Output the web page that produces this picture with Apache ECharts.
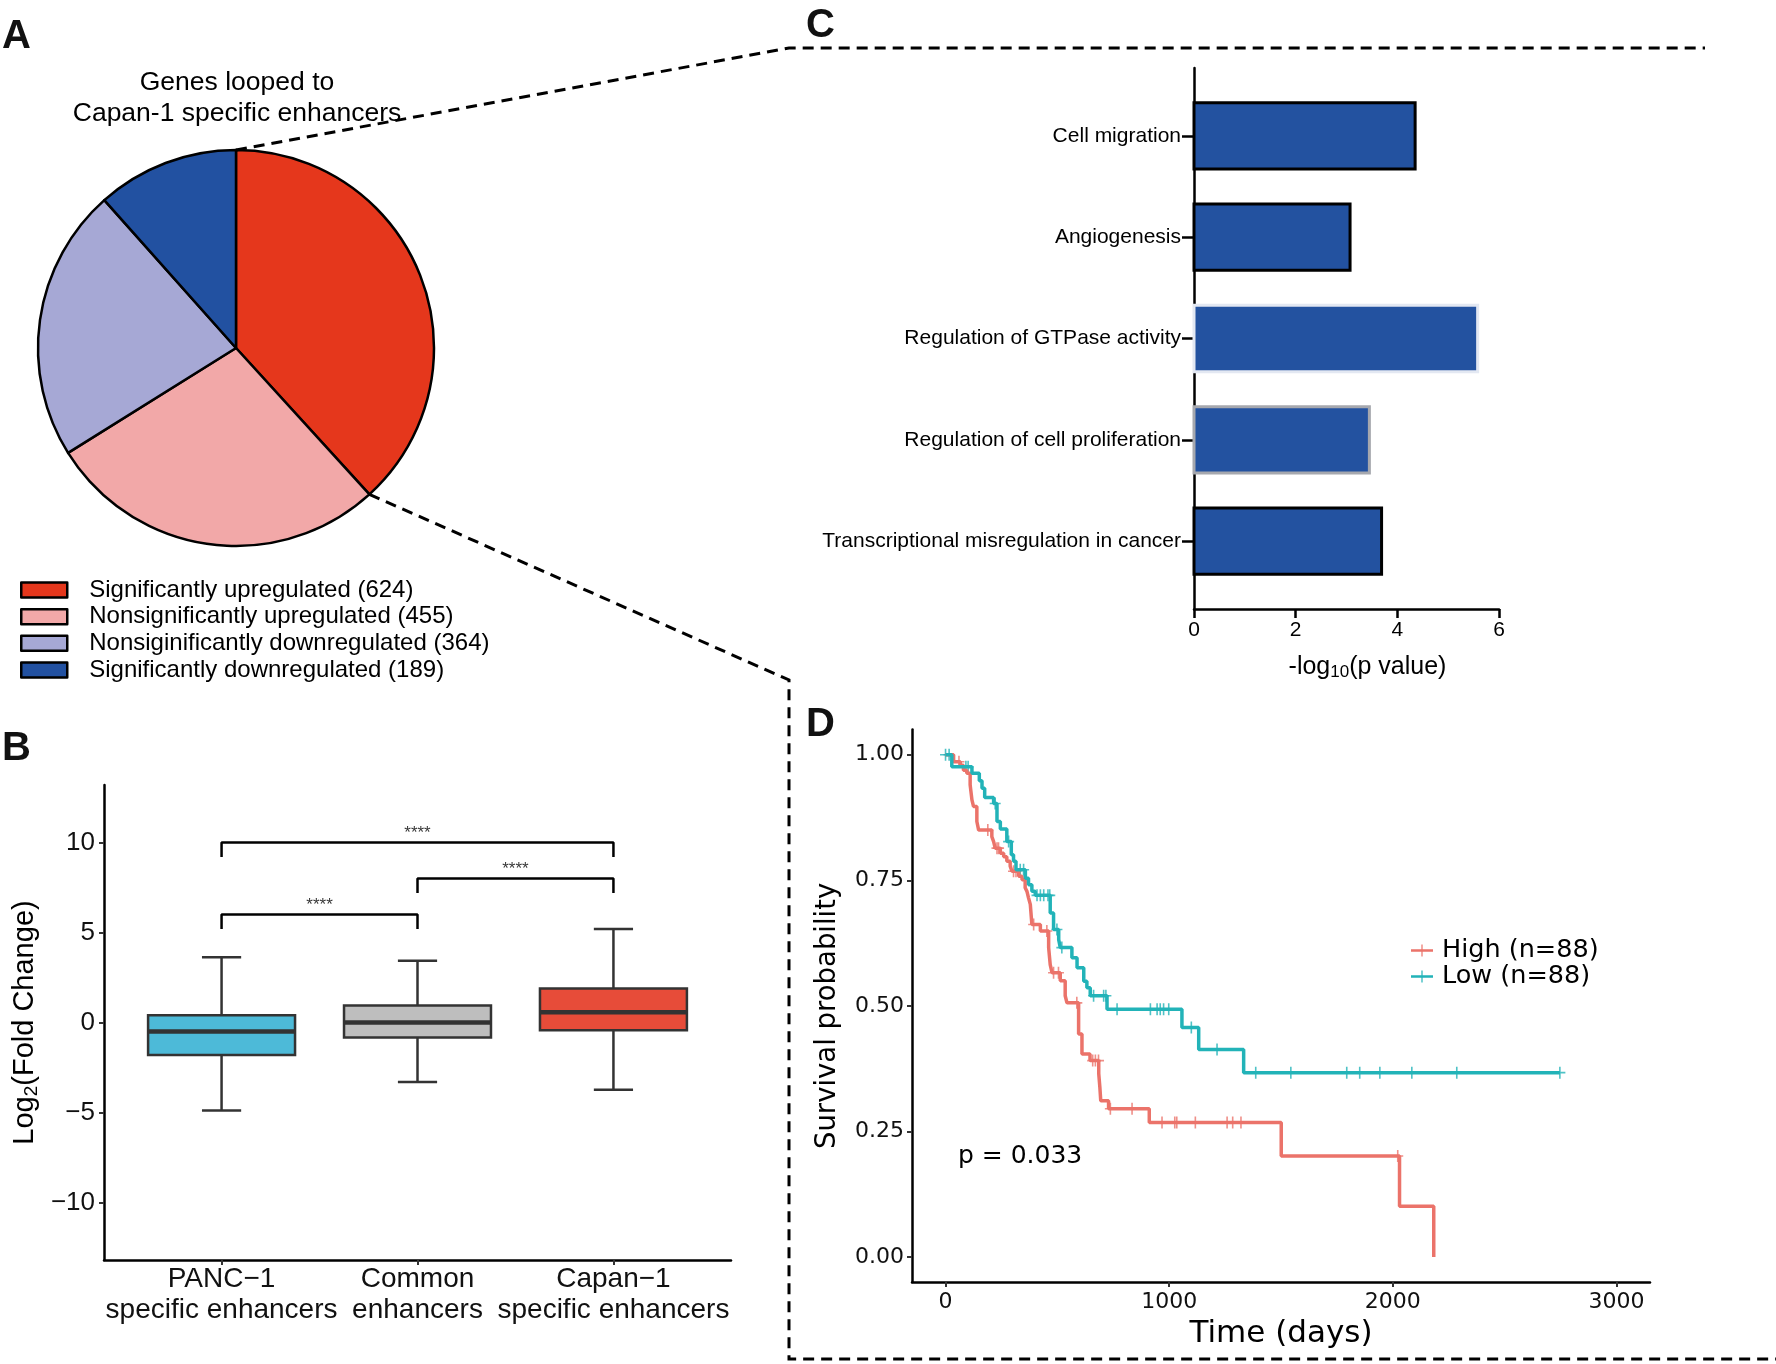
<!DOCTYPE html>
<html><head><meta charset="utf-8">
<script src="https://cdn.jsdelivr.net/npm/echarts@6/dist/echarts.min.js"></script>
<style>html,body{margin:0;padding:0;background:#fff}#c{width:1776px;height:1364px}</style>
</head><body><div id="c"></div>
<script>
// ---------- Panel A: pie ----------
const pieNames = ['Significantly upregulated','Nonsignificantly upregulated','Nonsiginificantly downregulated','Significantly downregulated'];
const pieCounts = [624, 455, 364, 189];
const pieColors = ['#E5371C', '#F2A8A8', '#A6A8D5', '#2251A1'];

// ---------- Panel B: box plot ----------
const boxCategories = ['PANC\u22121\nspecific enhancers', 'Common\nenhancers', 'Capan\u22121\nspecific enhancers'];
const boxLow    = [-4.89, -3.31, -3.74];
const boxQ1     = [-1.80, -0.83, -0.43];
const boxMedian = [-0.50,  0.00,  0.57];
const boxQ3     = [ 0.40,  0.95,  1.89];
const boxHigh   = [ 3.62,  3.43,  5.20];
const boxColors = ['#4DBAD8', '#BEBEBE', '#E74C39'];
const yTicksB = [-10, -5, 0, 5, 10];
const sigPairs = [[1, 2], [2, 3], [1, 3]];
const sigLevels = [6, 8, 10];
const sigLabels = ['****', '****', '****'];
const sigTip = 0.8;

// ---------- Panel C: GO bars ----------
const goTerms = ['Cell migration', 'Angiogenesis', 'Regulation of GTPase activity', 'Regulation of cell proliferation', 'Transcriptional misregulation in cancer'];
const goValues = [4.35, 3.07, 5.58, 3.45, 3.69];
const goBorderColors = ['#000000', '#000000', '#E3E8F2', '#A6A8AE', '#000000'];
const xTicksC = [0, 2, 4, 6];

// ---------- Panel D: Kaplan-Meier ----------
const highTimes = [0,36,66,80,95,110,118,125,140,148,207,215,222,245,260,274,289,297,327,342,356,364,371,379,386,424,461,468,476,513,535,543,595,610,646,685,690,694,729,911,1501,2030,2183];
const highSurv  = [1,0.986,0.979,0.969,0.963,0.940,0.910,0.897,0.867,0.850,0.837,0.827,0.814,0.804,0.797,0.788,0.778,0.768,0.758,0.751,0.735,0.728,0.715,0.702,0.662,0.649,0.616,0.582,0.566,0.550,0.520,0.506,0.444,0.404,0.391,0.365,0.338,0.311,0.295,0.268,0.201,0.101,0];
const highCensor = [60,189,230,237,304,315,394,453,483,505,587,658,670,684,737,834,968,1025,1034,1117,1259,1284,1321,2022];
const lowTimes = [0,28,118,151,163,175,215,230,245,274,294,304,315,357,371,386,401,468,483,506,513,565,588,618,632,647,722,1057,1132,1333,2747];
const lowSurv  = [1,0.976,0.963,0.948,0.933,0.915,0.903,0.867,0.852,0.827,0.801,0.788,0.771,0.754,0.741,0.728,0.720,0.685,0.652,0.632,0.616,0.596,0.576,0.549,0.536,0.520,0.493,0.457,0.413,0.367,0.367];
const lowCensor = [0,16,91,101,222,282,334,349,409,424,439,458,466,498,520,662,707,717,767,916,946,960,975,998,1099,1214,1387,1544,1794,1852,1942,2085,2286,2747];
const kmNames = ['High (n=88)', 'Low (n=88)'];
const kmColors = ['#EB736A', '#22B3B8'];
const xTicksD = [0, 1000, 2000, 3000];
const yTicksD = [0, 0.25, 0.5, 0.75, 1];
const pValueText = 'p = 0.033';

// ---------- helpers ----------
const SANS = 'Liberation Sans, Arial, Helvetica, sans-serif';
const DJV = 'DejaVu Sans, Verdana, sans-serif';
function survAt(times, surv, t) {
  let s = surv[0];
  for (let i = 0; i < times.length; i++) { if (times[i] <= t) s = surv[i]; }
  return s;
}
const minusFmt = v => (v < 0 ? '\u2212' + Math.abs(v) : String(v));

// layout (decoration)
const pieCenter = [236, 348], pieRadius = 198;
const total = pieCounts.reduce((a, b) => a + b, 0);
const redEndAng = pieCounts[0] / total * 2 * Math.PI;
const pieTop = [pieCenter[0], pieCenter[1] - pieRadius];
const pieRedEnd = [pieCenter[0] + pieRadius * Math.sin(redEndAng), pieCenter[1] - pieRadius * Math.cos(redEndAng)];

const chart = echarts.init(document.getElementById('c'), null, {renderer: 'canvas'});

const axisLineStyle = {color: '#000', width: 2.5};

const series = [];

// C bars
series.push({
  type: 'custom', xAxisIndex: 0, yAxisIndex: 0,
  encode: {x: 0, y: 1},
  data: goValues.map((v, i) => [v, i + 1]),
  renderItem: (params, api) => {
    const v = api.value(0), pos = api.value(1);
    const p0 = api.coord([0, pos]), p1 = api.coord([v, pos]);
    const h = Math.abs(api.size([0, 0.655])[1]);
    return {type: 'rect', shape: {x: p0[0], y: p0[1] - h / 2, width: p1[0] - p0[0], height: h},
      style: {fill: '#2352A0', stroke: goBorderColors[params.dataIndex], lineWidth: 3}};
  },
  z: 1
});

// B boxes
series.push({
  type: 'custom', xAxisIndex: 1, yAxisIndex: 1,
  encode: {x: 0, y: [1, 2, 3, 4, 5]},
  data: boxCategories.map((c, i) => [i + 1, boxLow[i], boxQ1[i], boxMedian[i], boxQ3[i], boxHigh[i]]),
  renderItem: (params, api) => {
    const x = api.value(0);
    const lo = api.value(1), q1 = api.value(2), md = api.value(3), q3 = api.value(4), hi = api.value(5);
    const half = 0.375, cap = 0.1;
    const C = (a, b) => api.coord([a, b]);
    const stroke = '#333333';
    const ln = (a, b, w) => ({type: 'line', shape: {x1: a[0], y1: a[1], x2: b[0], y2: b[1]}, style: {stroke, lineWidth: w}});
    const tl = C(x - half, q3), br = C(x + half, q1);
    return {type: 'group', children: [
      ln(C(x, hi), C(x, q3), 2.5),
      ln(C(x, lo), C(x, q1), 2.5),
      ln(C(x - cap, hi), C(x + cap, hi), 2.5),
      ln(C(x - cap, lo), C(x + cap, lo), 2.5),
      {type: 'rect', shape: {x: tl[0], y: tl[1], width: br[0] - tl[0], height: br[1] - tl[1]},
        style: {fill: boxColors[params.dataIndex], stroke, lineWidth: 2.5}},
      ln(C(x - half, md), C(x + half, md), 4.5)
    ]};
  }
});

// B significance brackets
sigPairs.forEach((pr, k) => {
  const lvl = sigLevels[k];
  series.push({
    type: 'line', xAxisIndex: 1, yAxisIndex: 1, showSymbol: false, symbol: 'none', silent: true,
    lineStyle: {color: '#000', width: 2.5},
    data: [[pr[0], lvl - sigTip], [pr[0], lvl], [pr[1], lvl], [pr[1], lvl - sigTip]]
  });
});
series.push({
  type: 'scatter', xAxisIndex: 1, yAxisIndex: 1, symbolSize: 0, silent: true,
  data: sigPairs.map((pr, k) => [(pr[0] + pr[1]) / 2, sigLevels[k]]),
  label: {show: true, position: 'top', distance: 1, formatter: p => sigLabels[p.dataIndex],
    fontSize: 17, color: '#000', fontFamily: SANS}
});

// A pie
series.push({
  type: 'pie', center: pieCenter, radius: pieRadius, startAngle: 90, clockwise: true,
  label: {show: false}, labelLine: {show: false}, silent: true,
  itemStyle: {borderColor: '#000', borderWidth: 2.5},
  emphasis: {disabled: true},
  data: pieNames.map((n, i) => ({name: n, value: pieCounts[i], itemStyle: {color: pieColors[i]}}))
});

// D curves
[[highTimes, highSurv, highCensor], [lowTimes, lowSurv, lowCensor]].forEach((arr, k) => {
  series.push({
    type: 'line', name: kmNames[k], xAxisIndex: 2, yAxisIndex: 2, step: 'end',
    showSymbol: false, symbol: 'none', silent: true,
    color: kmColors[k],
    itemStyle: {color: kmColors[k]},
    lineStyle: {color: kmColors[k], width: 3.5},
    data: arr[0].map((t, i) => [t, arr[1][i]])
  });
});
[[highTimes, highSurv, highCensor], [lowTimes, lowSurv, lowCensor]].forEach((arr, k) => {
  series.push({
    type: 'scatter', xAxisIndex: 2, yAxisIndex: 2, silent: true,
    symbol: 'path://M0,5.2H11V6.8H0Z M4.7,0H6.3V12H4.7Z', symbolSize: [11, 12],
    itemStyle: {color: kmColors[k]},
    data: arr[2].map(t => [t, survAt(arr[0], arr[1], t)])
  });
});

const option = {
  animation: false,
  backgroundColor: '#fff',
  textStyle: {fontFamily: SANS},
  grid: [
    {left: 1194, top: 68, width: 305, height: 541, outerBoundsMode: 'none', containLabel: false},
    {left: 104, top: 785, width: 627, height: 475, outerBoundsMode: 'none', containLabel: false},
    {left: 912, top: 729.6, width: 738, height: 552.5, outerBoundsMode: 'none', containLabel: false}
  ],
  xAxis: [
    {type: 'value', gridIndex: 0, min: 0, max: 6, interval: 2,
      axisLine: {show: true, onZero: false, lineStyle: axisLineStyle},
      axisTick: {show: true, length: 9, lineStyle: {color: '#000', width: 2.5}, customValues: xTicksC},
      axisLabel: {fontSize: 21, color: '#000', margin: 11, customValues: xTicksC},
      splitLine: {show: false},
      name: '-log{s|10}(p value)', nameLocation: 'middle', nameGap: 44, nameMoveOverlap: false,
      nameTextStyle: {fontSize: 25, color: '#000', lineHeight: 28, padding: [0, 0, 0, 42],
        rich: {s: {fontSize: 17, lineHeight: 16, verticalAlign: 'bottom', fontFamily: SANS}}}},
    {type: 'value', gridIndex: 1, min: 0.4, max: 3.6,
      axisLine: {show: true, onZero: false, lineStyle: axisLineStyle},
      axisTick: {show: true, length: 5, lineStyle: {color: '#333', width: 2}, customValues: [1, 2, 3]},
      axisLabel: {fontSize: 28, lineHeight: 31, color: '#111', margin: 4, customValues: [1, 2, 3],
        formatter: v => boxCategories[Math.round(v) - 1]},
      splitLine: {show: false}},
    {type: 'value', gridIndex: 2, min: -150, max: 3150,
      axisLine: {show: true, onZero: false, lineStyle: axisLineStyle},
      axisTick: {show: true, length: 5, lineStyle: {color: '#333', width: 2}, customValues: xTicksD},
      axisLabel: {fontSize: 22, color: '#111', margin: 9, fontFamily: DJV, customValues: xTicksD,
        formatter: v => String(v)},
      splitLine: {show: false},
      name: 'Time (days)', nameLocation: 'middle', nameGap: 36, nameMoveOverlap: false,
      nameTextStyle: {fontSize: 31, color: '#000', fontFamily: DJV}}
  ],
  yAxis: [
    {type: 'value', gridIndex: 0, inverse: true, min: 0.33, max: 5.67,
      axisLine: {show: true, onZero: false, lineStyle: axisLineStyle},
      axisTick: {show: true, length: 12, lineStyle: {color: '#000', width: 2.5}, customValues: [1, 2, 3, 4, 5]},
      axisLabel: {fontSize: 21, color: '#000', margin: 13, customValues: [1, 2, 3, 4, 5],
        formatter: v => goTerms[Math.round(v) - 1]},
      splitLine: {show: false}},
    {type: 'value', gridIndex: 1, min: -13.2, max: 13.2,
      axisLine: {show: true, onZero: false, lineStyle: axisLineStyle},
      axisTick: {show: true, length: 5, lineStyle: {color: '#333', width: 2}, customValues: yTicksB},
      axisLabel: {fontSize: 26, color: '#111', margin: 9, customValues: yTicksB, formatter: minusFmt},
      splitLine: {show: false},
      name: 'Log{s|2}(Fold Change)', nameLocation: 'middle', nameRotate: 90, nameGap: 63, nameMoveOverlap: false,
      nameTextStyle: {fontSize: 29, color: '#000', lineHeight: 32,
        rich: {s: {fontSize: 19, lineHeight: 18, verticalAlign: 'bottom', fontFamily: SANS}}}},
    {type: 'value', gridIndex: 2, min: -0.05, max: 1.05,
      axisLine: {show: true, onZero: false, lineStyle: axisLineStyle},
      axisTick: {show: true, length: 5, lineStyle: {color: '#333', width: 2}, customValues: yTicksD},
      axisLabel: {fontSize: 22, color: '#111', margin: 8, fontFamily: DJV, customValues: yTicksD,
        formatter: v => v.toFixed(2)},
      splitLine: {show: false},
      name: 'Survival probability', nameLocation: 'middle', nameRotate: 90, nameGap: 70, nameMoveOverlap: false,
      nameTextStyle: {fontSize: 27.5, color: '#000', fontFamily: DJV, padding: [0, 20, 0, 0]}}
  ],
  legend: [
    {data: pieNames, orient: 'vertical', left: 20, top: 576.6, padding: 0, itemGap: 0, itemWidth: 46, itemHeight: 15,
      icon: 'rect', selectedMode: false,
      itemStyle: {borderColor: '#000', borderWidth: 2.5},
      formatter: n => n + ' (' + pieCounts[pieNames.indexOf(n)] + ')',
      textStyle: {fontSize: 24, lineHeight: 26.7, color: '#000', fontFamily: SANS, padding: [0, 0, 0, 17]}},
    {data: kmNames, orient: 'vertical', left: 1411, top: 937.5, padding: 0, itemGap: 0, itemWidth: 22, itemHeight: 12,
      icon: 'path://M0,4.8H22V7.2H0Z M10.4,0H11.6V12H10.4Z', selectedMode: false,
      textStyle: {fontSize: 25.5, lineHeight: 26, color: '#000', fontFamily: DJV, padding: [0, 0, 0, 4]}}
  ],
  graphic: [
    {type: 'text', x: 2, y: 37, style: {text: 'A', font: 'bold 40px ' + SANS, fill: '#111', textVerticalAlign: 'middle'}},
    {type: 'text', x: 2, y: 749, style: {text: 'B', font: 'bold 40px ' + SANS, fill: '#111', textVerticalAlign: 'middle'}},
    {type: 'text', x: 806, y: 26, style: {text: 'C', font: 'bold 40px ' + SANS, fill: '#111', textVerticalAlign: 'middle'}},
    {type: 'text', x: 806, y: 725, style: {text: 'D', font: 'bold 40px ' + SANS, fill: '#111', textVerticalAlign: 'middle'}},
    {type: 'text', x: 237, y: 98, style: {text: 'Genes looped to\nCapan-1 specific enhancers', font: '26.5px ' + SANS,
      lineHeight: 31, fill: '#000', textAlign: 'center', textVerticalAlign: 'middle'}},
    {type: 'text', x: 958, y: 1156, style: {text: pValueText, font: '25px ' + DJV, fill: '#000', textVerticalAlign: 'middle'}},
    {type: 'polyline', shape: {points: [pieTop, [789, 48], [1705, 48]]},
      style: {stroke: '#000', lineWidth: 3, lineDash: [11, 7], fill: null}, z: 10},
    {type: 'polyline', shape: {points: [pieRedEnd, [789, 680], [789, 1359], [1776, 1359]]},
      style: {stroke: '#000', lineWidth: 3, lineDash: [11, 7], fill: null}, z: 10}
  ],
  series: series
};
chart.setOption(option);
</script>
</body></html>
